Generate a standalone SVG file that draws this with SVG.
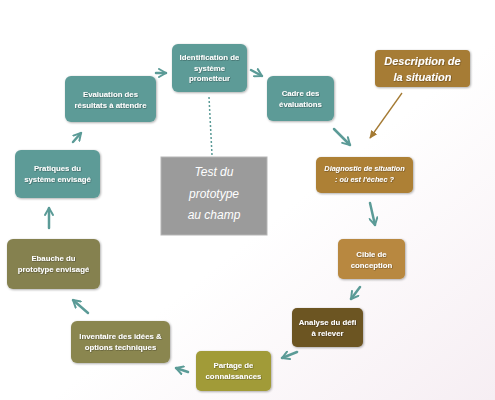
<svg xmlns="http://www.w3.org/2000/svg" width="495" height="400" viewBox="0 0 495 400">
<defs>
<linearGradient id="bg" x1="0" y1="0" x2="1" y2="1">
<stop offset="0" stop-color="#ffffff"/>
<stop offset="0.55" stop-color="#ffffff"/>
<stop offset="1" stop-color="#f6eef3"/>
</linearGradient>
<marker id="ah" viewBox="0 0 10 10" refX="8" refY="5" markerWidth="4" markerHeight="4" orient="auto" markerUnits="strokeWidth">
<path d="M1,1 L8,5 L1,9" fill="none" stroke="#5b9b97" stroke-width="2" stroke-linecap="round" stroke-linejoin="round"/>
</marker>
<marker id="ahb" viewBox="0 0 10 10" refX="8" refY="5" markerWidth="7" markerHeight="7" orient="auto" markerUnits="strokeWidth">
<path d="M0,1 L9,5 L0,9 Z" fill="#a47a33"/>
</marker>
<filter id="sh" x="-10%" y="-10%" width="130%" height="130%">
<feDropShadow dx="0.8" dy="0.8" stdDeviation="0.8" flood-color="#000" flood-opacity="0.35"/>
</filter>
<filter id="ts" x="-5%" y="-20%" width="110%" height="140%">
<feDropShadow dx="0.5" dy="0.5" stdDeviation="0.3" flood-color="#000" flood-opacity="0.5"/>
</filter>
</defs>
<style>
.teal{fill:#5d9b97}
.t{font-family:"Liberation Sans","DejaVu Sans",sans-serif;font-size:7.8px;font-weight:bold;fill:#ffffff;text-anchor:middle}
.ti{font-style:italic}
.big{font-family:"Liberation Sans","DejaVu Sans",sans-serif;font-size:11px;font-weight:bold;font-style:italic;fill:#ffffff;text-anchor:middle}
.test{font-family:"Liberation Sans","DejaVu Sans",sans-serif;font-size:12px;font-style:italic;fill:#ffffff;text-anchor:middle}
.c{fill:none;stroke:#5b9b97;stroke-width:2.5;stroke-linecap:round;marker-end:url(#ah)}
</style>
<rect width="495" height="400" fill="url(#bg)"/>
<g id="connectors">
<path class="c" d="M156,73 L166,73"/>
<path class="c" d="M251,70 L262,76"/>
<path class="c" d="M334,129 L350,145"/>
<path class="c" d="M370,203 L375,225"/>
<path class="c" d="M360,287 L351,299"/>
<path class="c" d="M297,352 L282,358"/>
<path class="c" d="M188,372 L176,368"/>
<path class="c" d="M88,313 L73,300"/>
<path class="c" d="M49,228 L49,208"/>
<path class="c" d="M73,142 L81,133"/>
<path d="M402,93 L370,138" fill="none" stroke="#a47a33" stroke-width="1.3" marker-end="url(#ahb)"/>
<path d="M209,97 L212,155" fill="none" stroke="#5b9b97" stroke-width="1.5" stroke-dasharray="2,2"/>
</g>
<g id="n-identification" filter="url(#sh)">
<rect x="172" y="44" width="75" height="48" rx="6" class="teal"/>
<g class="t" filter="url(#ts)"><text x="209.5" y="60">Identification de</text><text x="209.5" y="70.5">système</text><text x="209.5" y="81">prometteur</text></g>
</g>
<g id="n-evaluation" filter="url(#sh)">
<rect x="65" y="76" width="91" height="46" rx="6" class="teal"/>
<g class="t" filter="url(#ts)"><text x="110.5" y="97">Evaluation des</text><text x="110.5" y="107.5">résultats à attendre</text></g>
</g>
<g id="n-cadre" filter="url(#sh)">
<rect x="267" y="76" width="67" height="45" rx="6" class="teal"/>
<g class="t" filter="url(#ts)"><text x="300.5" y="96">Cadre des</text><text x="300.5" y="106.5">évaluations</text></g>
</g>
<g id="n-description" filter="url(#sh)">
<rect x="375" y="50" width="95" height="37" rx="4" fill="#a67b34"/>
<g class="big" filter="url(#ts)"><text x="422.5" y="65">Description de</text><text x="422.5" y="80.5">la situation</text></g>
</g>
<g id="n-pratiques" filter="url(#sh)">
<rect x="15" y="150" width="85" height="48" rx="6" class="teal"/>
<g class="t" filter="url(#ts)"><text x="57.5" y="171">Pratiques du</text><text x="57.5" y="181.5">système envisagé</text></g>
</g>
<g id="n-test">
<rect x="161" y="157" width="106" height="78" fill="#9b9b9b" stroke="#b5b5b5" stroke-width="1"/>
<g class="test"><text x="214" y="176">Test du</text><text x="214" y="197.5">prototype</text><text x="214" y="219">au champ</text></g>
</g>
<g id="n-diagnostic" filter="url(#sh)">
<rect x="316" y="157" width="97" height="36" rx="5" fill="#ad8036"/>
<g class="t ti" filter="url(#ts)" style="font-size:7.3px"><text x="364.5" y="171">Diagnostic de situation</text><text x="364.5" y="181.5">: où est l'échec ?</text></g>
</g>
<g id="n-cible" filter="url(#sh)">
<rect x="338" y="239" width="67" height="40" rx="5" fill="#b8883f"/>
<g class="t" filter="url(#ts)"><text x="371.5" y="257">Cible de</text><text x="371.5" y="267.5">conception</text></g>
</g>
<g id="n-analyse" filter="url(#sh)">
<rect x="292" y="308" width="71" height="39" rx="5" fill="#6c5424"/>
<g class="t" filter="url(#ts)"><text x="327.5" y="325">Analyse du défi</text><text x="327.5" y="335.5">à relever</text></g>
</g>
<g id="n-partage" filter="url(#sh)">
<rect x="196" y="351" width="75" height="40" rx="5" fill="#a19b37"/>
<g class="t" filter="url(#ts)"><text x="233.5" y="368">Partage de</text><text x="233.5" y="378.5">connaissances</text></g>
</g>
<g id="n-inventaire" filter="url(#sh)">
<rect x="71" y="321" width="99" height="42" rx="6" fill="#8a8650"/>
<g class="t" filter="url(#ts)"><text x="120.5" y="339">Inventaire des idées &amp;</text><text x="120.5" y="349.5">options techniques</text></g>
</g>
<g id="n-ebauche" filter="url(#sh)">
<rect x="7" y="239" width="93" height="50" rx="6" fill="#858150"/>
<g class="t" filter="url(#ts)"><text x="53.5" y="261">Ebauche du</text><text x="53.5" y="271.5">prototype envisagé</text></g>
</g>
</svg>
